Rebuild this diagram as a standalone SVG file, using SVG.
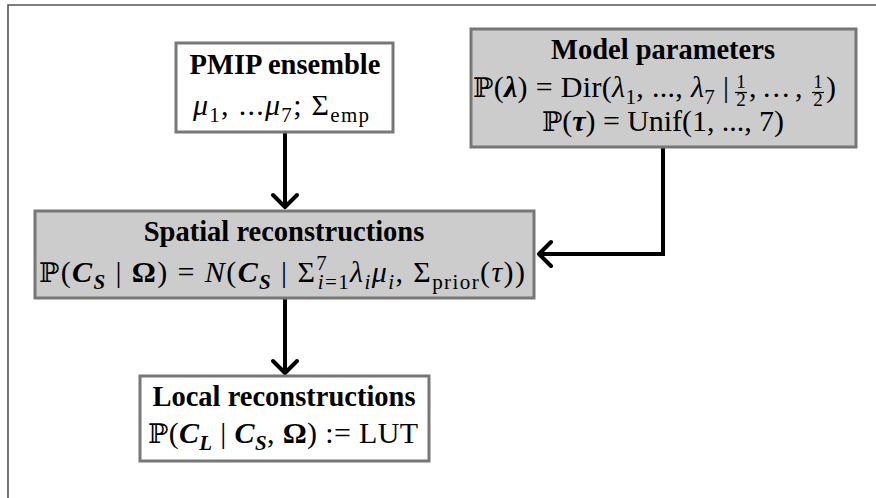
<svg xmlns="http://www.w3.org/2000/svg" width="876" height="498" viewBox="0 0 876 498">
<style>
.box{stroke:#777;stroke-width:3}
.w{fill:#fff}
.g{fill:#cccccc}
.t{font-family:"Liberation Serif","DejaVu Serif",serif;font-weight:bold;font-size:28.5px;text-anchor:middle;fill:#000}
.m{font-family:"Liberation Serif","DejaVu Serif",serif;font-size:30px;fill:#000}
.c{text-anchor:middle}
.i{font-style:italic}
.b{font-weight:bold;font-style:italic}
.s{font-size:21px}
.f{font-size:19px}
.bb{font-family:"DejaVu Serif","DejaVu Sans",serif;font-size:27px}
.conn{stroke:#000;stroke-width:4;fill:none;stroke-linejoin:miter}
</style>
<defs>
<marker id="ah" markerUnits="userSpaceOnUse" markerWidth="30" markerHeight="30" viewBox="-20 -15 30 30" refX="0" refY="0" orient="auto" overflow="visible">
<path d="M-12,-12 L0,0 L-12,12" fill="none" stroke="#000" stroke-width="4" stroke-linecap="round" stroke-linejoin="round"/>
</marker>
</defs>
<rect width="876" height="498" fill="#fff"/>
<path d="M8,498 V5 H876" fill="none" stroke="#555" stroke-width="1.6"/>

<g id="connectors">
<path class="conn" d="M285,133 V207" marker-end="url(#ah)"/>
<path class="conn" d="M285,299 V373" marker-end="url(#ah)"/>
<path class="conn" d="M663,147 V254 H539" marker-end="url(#ah)"/>
</g>

<g id="pmip">
<rect class="box w" x="176" y="43" width="217" height="89"/>
<text class="t" x="285" y="74">PMIP ensemble</text>
<text class="m c" x="281" y="115" textLength="176"><tspan class="i">μ</tspan><tspan class="s" dy="7">1</tspan><tspan dy="-7">, ...</tspan><tspan class="i">μ</tspan><tspan class="s" dy="7">7</tspan><tspan dy="-7">; Σ</tspan><tspan class="s" dy="7">emp</tspan></text>
</g>

<g id="model">
<rect class="box g" x="471" y="29" width="385" height="118"/>
<text class="t" x="663" y="59">Model parameters</text>
<text class="m" x="473" y="97" textLength="256"><tspan class="bb">ℙ</tspan>(<tspan class="b">λ</tspan>) = Dir(<tspan class="i">λ</tspan><tspan class="s" dy="7">1</tspan><tspan dy="-7">, ..., </tspan><tspan class="i">λ</tspan><tspan class="s" dy="7">7</tspan><tspan dy="-7"> |</tspan></text>
<text class="m f c" x="741" y="88">1</text>
<line x1="735" y1="92.5" x2="747" y2="92.5" stroke="#000" stroke-width="1.2"/>
<text class="m f c" x="741" y="106">2</text>
<text class="m" y="97"><tspan x="749">,</tspan><tspan x="763" letter-spacing="2">...</tspan><tspan x="795">,</tspan></text>
<text class="m f c" x="818" y="88">1</text>
<line x1="812" y1="92.5" x2="824" y2="92.5" stroke="#000" stroke-width="1.2"/>
<text class="m f c" x="818" y="106">2</text>
<text class="m" x="826" y="97">)</text>
<text class="m c" x="663" y="131" textLength="242"><tspan class="bb">ℙ</tspan>(<tspan class="b">τ</tspan>) = Unif(1, ..., 7)</text>
</g>

<g id="spatial">
<rect class="box g" x="35" y="211" width="499" height="87"/>
<text class="t" x="284" y="241">Spatial reconstructions</text>
<text class="m c" x="282" y="282" textLength="486"><tspan class="bb">ℙ</tspan>(<tspan class="b">C</tspan><tspan class="b s" dy="7">S</tspan><tspan dy="-7"> | </tspan><tspan font-weight="bold">Ω</tspan>) = <tspan class="i">N</tspan>(<tspan class="b">C</tspan><tspan class="b s" dy="7">S</tspan><tspan dy="-7"> | Σ</tspan><tspan class="s" dy="-12">7</tspan><tspan class="s" dx="-10.5" dy="19"><tspan class="i">i</tspan>=1</tspan><tspan class="i" dy="-7">λ</tspan><tspan class="i s" dy="7">i</tspan><tspan class="i" dy="-7">μ</tspan><tspan class="i s" dy="7">i</tspan><tspan dy="-7">, Σ</tspan><tspan class="s" dy="7">prior</tspan><tspan dy="-7">(</tspan><tspan class="i">τ</tspan>))</text>
</g>

<g id="local">
<rect class="box w" x="140" y="376" width="289" height="85"/>
<text class="t" x="284" y="406">Local reconstructions</text>
<text class="m c" x="283" y="443" textLength="270"><tspan class="bb">ℙ</tspan>(<tspan class="b">C</tspan><tspan class="b s" dy="7">L</tspan><tspan dy="-7"> | </tspan><tspan class="b">C</tspan><tspan class="b s" dy="7">S</tspan><tspan dy="-7">, </tspan><tspan font-weight="bold">Ω</tspan>) := LUT</text>
</g>
</svg>
